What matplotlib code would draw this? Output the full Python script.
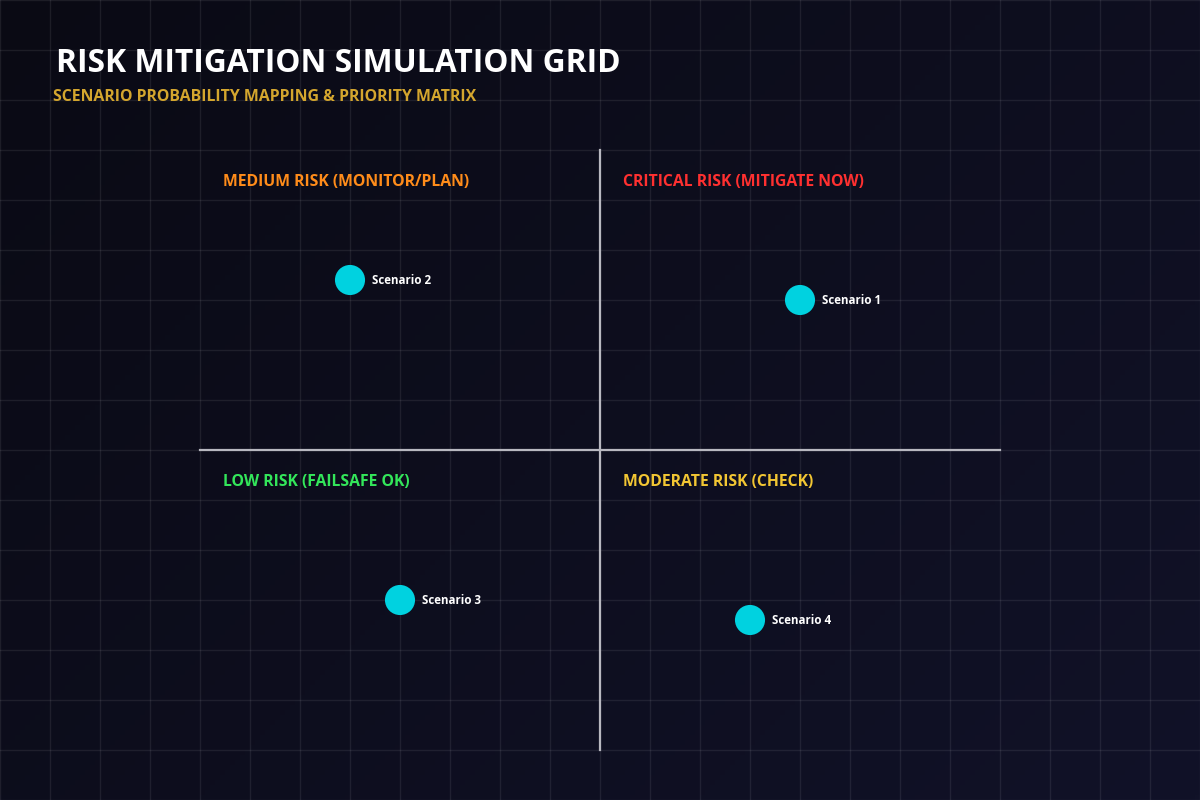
import matplotlib.pyplot as plt
import numpy as np

# scenario positions on the 1200x800 canvas grid
scenarios = ["Scenario 1", "Scenario 2", "Scenario 3", "Scenario 4"]
scen_x = [800, 350, 400, 750]
scen_y = [300, 280, 600, 620]

quadrant_labels = [
    "MEDIUM RISK (MONITOR/PLAN)",
    "CRITICAL RISK (MITIGATE NOW)",
    "LOW RISK (FAILSAFE OK)",
    "MODERATE RISK (CHECK)",
]
quadrant_colors = ["#ff8c1a", "#ff3030", "#33e65a", "#f2c633"]
quadrant_x = [223, 623, 223, 623]
quadrant_y = [182, 182, 482, 482]

plt.rcParams["font.family"] = ["Open Sans", "DejaVu Sans"]

fig = plt.figure(figsize=(12, 8), dpi=100)
ax = fig.add_axes([0, 0, 1, 1])
ax.set_xlim(0, 1200)
ax.set_ylim(800, 0)
ax.axis("off")

# diagonal background gradient
gx, gy = np.meshgrid(np.linspace(0, 1, 240), np.linspace(0, 1, 160))
t = (gx * 1.2 + gy * 0.8) / 2.0
c0 = np.array([10, 10, 20]) / 255
c1 = np.array([17, 18, 40]) / 255
img = c0 + (c1 - c0) * t[..., None]
ax.imshow(img, extent=(0, 1200, 800, 0), aspect="auto", zorder=0)

# faint grid every 50 px
for v in range(0, 1201, 50):
    ax.axvline(v, color="white", alpha=0.08, lw=1, zorder=1)
for v in range(0, 801, 50):
    ax.axhline(v, color="white", alpha=0.08, lw=1, zorder=1)

# quadrant dividers
ax.plot([600, 600], [150, 750], color="#b8b8c0", lw=1.6, zorder=2)
ax.plot([200, 1000], [450, 450], color="#b8b8c0", lw=1.6, zorder=2)

for lbl, c, x, y in zip(quadrant_labels, quadrant_colors, quadrant_x, quadrant_y):
    ax.text(x, y, lbl, color=c, fontsize=11.3, fontweight="bold",
            ha="left", va="center", zorder=3)

ax.scatter(scen_x, scen_y, s=470, color="#00d2e0", edgecolors="none", zorder=4)
for name, x, y in zip(scenarios, scen_x, scen_y):
    ax.text(x + 22, y, name, color="white", fontsize=8.3, fontweight="bold",
            ha="left", va="center", zorder=5)

fig.text(56 / 1200, 1 - 64 / 800, "RISK MITIGATION SIMULATION GRID",
         color="white", fontsize=22.9, fontweight="bold", ha="left", va="center")
fig.text(53 / 1200, 1 - 97 / 800, "SCENARIO PROBABILITY MAPPING & PRIORITY MATRIX",
         color="#d4a62e", fontsize=11.4, fontweight="bold", ha="left", va="center")

fig.savefig("out.png", dpi=100, facecolor="#0a0a14")
